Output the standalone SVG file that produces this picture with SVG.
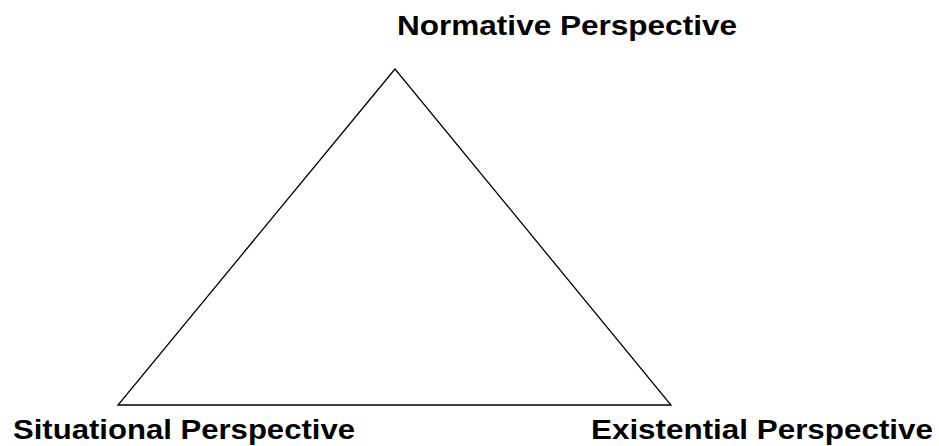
<svg xmlns="http://www.w3.org/2000/svg" width="939" height="446" viewBox="0 0 939 446">
<style>
.lbl{font-family:"Liberation Sans",Arial,sans-serif;font-weight:bold;font-size:27.5px;fill:#000}
.edge{fill:none;stroke:#000;stroke-width:1.3}
</style>
<rect width="939" height="446" fill="#fff"/>
<g id="connectors">
<polygon class="edge" points="395,69 118,405 671,405"/>
</g>
<g id="normative"><text class="lbl" x="397" y="35" textLength="340" lengthAdjust="spacingAndGlyphs">Normative Perspective</text></g>
<g id="situational"><text class="lbl" x="13" y="439" textLength="342" lengthAdjust="spacingAndGlyphs">Situational Perspective</text></g>
<g id="existential"><text class="lbl" x="591" y="439" textLength="342" lengthAdjust="spacingAndGlyphs">Existential Perspective</text></g>
</svg>
